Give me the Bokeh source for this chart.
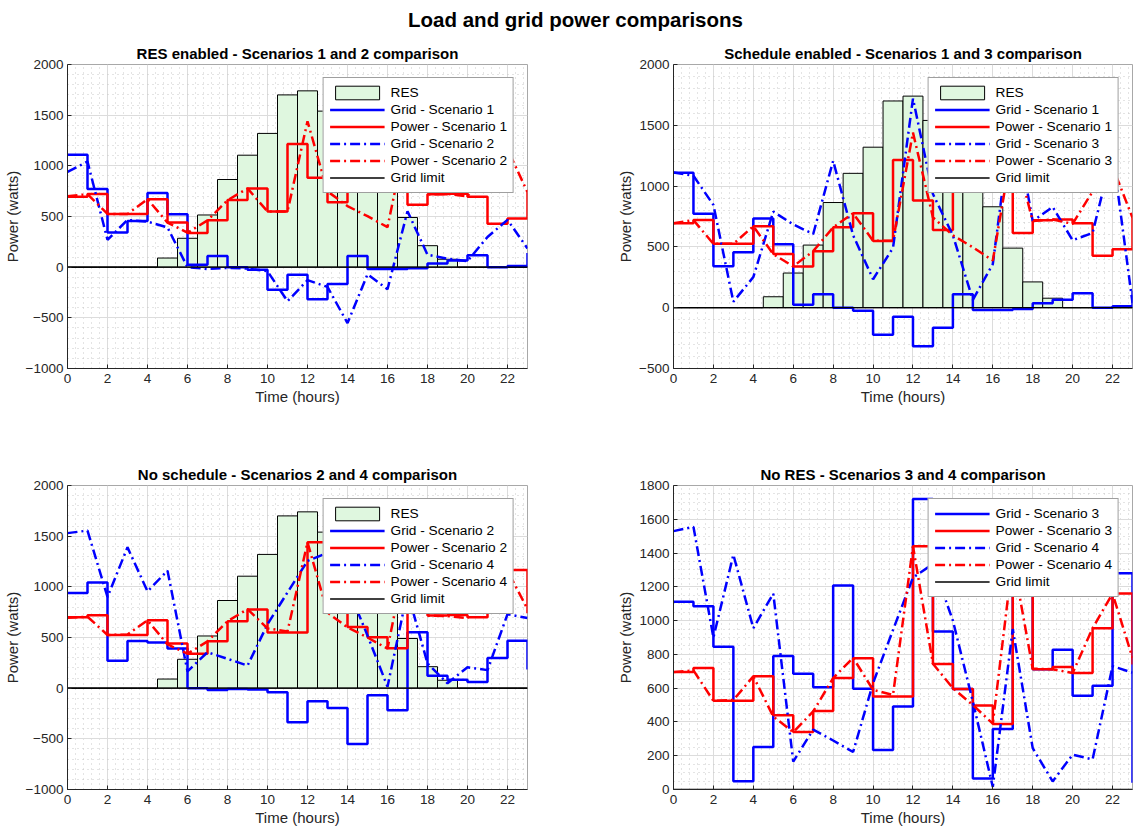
from bokeh.plotting import figure
from bokeh.models import Range1d, SingleIntervalTicker, Legend, LegendItem, Div
from bokeh.layouts import column, row
from bokeh.embed import file_html
from bokeh.resources import INLINE

FONT = "Liberation Sans"

# ---------------- data ----------------
hours = list(range(24))
res_power = [0, 0, 0, 0, 0, 90, 285, 515, 865, 1105, 1320, 1700, 1740, 1540,
             1300, 1050, 830, 490, 212, 78, 0, 0, 0, 0]
grid_s1 = [1110, 772, 341, 456, 733, 522, 25, 110, 0, -25, -222, -74, -316, -165,
           110, -19, -19, -10, 36, 66, 118, 0, 11, 140]
power_s1 = [695, 722, 525, 525, 670, 442, 338, 464, 662, 777, 549, 1215, 882, 640,
            1150, 1080, 1200, 615, 720, 725, 695, 428, 480, 740]
grid_s2 = [940, 1042, 270, 466, 450, 392, 0, -18, -8, -13, -40, -336, -128, -195,
           -552, -70, -218, 552, 123, 83, 60, 298, 467, 185]
power_s2 = [700, 720, 525, 525, 670, 440, 340, 462, 660, 777, 550, 550, 1440, 748,
            603, 503, 395, 1350, 718, 722, 700, 955, 1165, 740]
grid_s3 = [1112, 1085, 845, 49, 252, 790, 685, 606, 1208, 596, 234, 492, 1720, 935,
           595, 65, 358, 1620, 712, 828, 555, 615, 1280, 40]
power_s3 = [695, 720, 525, 525, 670, 440, 340, 465, 660, 777, 550, 550, 1440, 743,
            595, 497, 388, 1350, 712, 725, 690, 955, 1160, 740]
grid_s4 = [1530, 1555, 900, 1390, 955, 1160, 165, 355, 290, 222, 630, 945, 1255, 1335,
           1000, 520, 15, 950, 245, 48, 206, 178, 730, 692]
power_s4 = [695, 705, 525, 530, 670, 432, 340, 462, 660, 780, 590, 560, 1440, 745,
            600, 500, 390, 1370, 715, 712, 690, 955, 1160, 780]
grid_limit = 0

main_title = "Load and grid power comparisons"
titles = ["RES enabled - Scenarios 1 and 2 comparison",
          "Schedule enabled - Scenarios 1 and 3 comparison",
          "No schedule - Scenarios 2 and 4 comparison",
          "No RES - Scenarios 3 and 4 comparison"]

BLUE = "#0000ff"
RED = "#ff0000"
DASHDOT = "10 4 2 4"
AXC = "#262626"


def make_fig(title, ymin, ymax, ystep, yminor, top_row, width, bl, br):
    if top_row:
        height, bt, bb = 386, 30, 52
    else:
        height, bt, bb = 408, 65, 39
    p = figure(width=width, height=height, output_backend="svg", toolbar_location=None,
               x_range=Range1d(0, 23), y_range=Range1d(ymin, ymax),
               min_border_left=bl, min_border_right=br, min_border_top=bt,
               min_border_bottom=bb, title=title)
    p.title.align = "center"
    p.title.text_font = FONT
    p.title.text_font_size = "15px"
    p.title.text_font_style = "bold"
    p.title.text_color = "#000000"
    p.title.standoff = 5
    p.xaxis.ticker = SingleIntervalTicker(interval=2, num_minor_ticks=5)
    p.yaxis.ticker = SingleIntervalTicker(interval=ystep, num_minor_ticks=yminor)
    p.xaxis.axis_label = "Time (hours)"
    p.yaxis.axis_label = "Power (watts)"
    for ax in p.xaxis + p.yaxis:
        ax.axis_line_color = AXC
        ax.major_tick_line_color = AXC
        ax.major_tick_in = 4
        ax.major_tick_out = 0
        ax.minor_tick_in = 0
        ax.minor_tick_out = 0
        ax.major_label_text_font = FONT
        ax.major_label_text_font_size = "13.5px"
        ax.major_label_text_color = AXC
        ax.axis_label_text_font = FONT
        ax.axis_label_text_font_size = "15px"
        ax.axis_label_text_font_style = "normal"
        ax.axis_label_text_color = AXC
    p.xaxis.major_label_standoff = 5
    p.xaxis.axis_label_standoff = 2
    p.yaxis.major_label_standoff = 4
    p.yaxis.axis_label_standoff = 2
    for g in (p.xgrid, p.ygrid):
        g.grid_line_color = "#dcdcdc"
        g.grid_line_width = 1
        g.minor_grid_line_color = "#c8c8c8"
        g.minor_grid_line_dash = "1 4"
        g.minor_grid_line_width = 1
    p.outline_line_color = "#a8a8a8"
    p.background_fill_color = "white"
    p.border_fill_color = "white"
    return p


def add_series(p, with_res, solid, dashed, labels):
    items = []
    if with_res:
        r = p.vbar(x=hours, top=res_power, width=1, bottom=0,
                   fill_color="#dff7df", line_color="#000000", line_width=1)
        items.append(LegendItem(label="RES", renderers=[r]))
    g_sol, pw_sol = solid
    g_dd, pw_dd = dashed
    r1 = p.step(hours, g_sol, mode="after", line_color=BLUE, line_width=2.5)
    r2 = p.step(hours, pw_sol, mode="after", line_color=RED, line_width=2.5)
    r3 = p.line(hours, g_dd, line_color=BLUE, line_width=2.5, line_dash=DASHDOT)
    r4 = p.line(hours, pw_dd, line_color=RED, line_width=2.5, line_dash=DASHDOT)
    r5 = p.line(hours, [grid_limit] * len(hours), line_color="#000000", line_width=1.3)
    for r, lab in zip([r1, r2, r3, r4, r5], labels):
        items.append(LegendItem(label=lab, renderers=[r]))
    leg = Legend(items=items, location="top_right", margin=13)
    leg.label_text_font = FONT
    leg.label_text_font_size = "13.7px"
    leg.label_text_color = "#000000"
    leg.glyph_width = 55
    leg.glyph_height = 17
    leg.label_height = 17
    leg.label_standoff = 6
    leg.spacing = 0
    leg.padding = 6
    leg.border_line_color = "#404040"
    leg.border_line_width = 1
    leg.background_fill_alpha = 1.0
    p.add_layout(leg)


p1 = make_fig(titles[0], -1000, 2000, 500, 5, True, 614, 67, 87)
add_series(p1, True, (grid_s1, power_s1), (grid_s2, power_s2),
           ["Grid - Scenario 1", "Power - Scenario 1", "Grid - Scenario 2",
            "Power - Scenario 2", "Grid limit"])

p2 = make_fig(titles[1], -500, 2000, 500, 5, True, 522, 58, 4)
add_series(p2, True, (grid_s1, power_s1), (grid_s3, power_s3),
           ["Grid - Scenario 1", "Power - Scenario 1", "Grid - Scenario 3",
            "Power - Scenario 3", "Grid limit"])

p3 = make_fig(titles[2], -1000, 2000, 500, 5, False, 614, 67, 87)
add_series(p3, True, (grid_s2, power_s2), (grid_s4, power_s4),
           ["Grid - Scenario 2", "Power - Scenario 2", "Grid - Scenario 4",
            "Power - Scenario 4", "Grid limit"])

p4 = make_fig(titles[3], 0, 1800, 200, 4, False, 522, 58, 4)
add_series(p4, False, (grid_s3, power_s3), (grid_s4, power_s4),
           ["Grid - Scenario 3", "Power - Scenario 3", "Grid - Scenario 4",
            "Power - Scenario 4", "Grid limit"])

head = Div(text='<div style="width:1136px;height:34px;padding-left:15px;padding-top:8px;'
                'box-sizing:border-box;text-align:center;font-family:\'Liberation Sans\';'
                'font-weight:bold;font-size:20.5px;line-height:24px;color:#000;margin:0">'
                + main_title + '</div>',
           width=1136, height=34, margin=0)

layout = column(head, row(p1, p2), row(p3, p4))
open("out.html", "w").write(file_html(layout, INLINE))
